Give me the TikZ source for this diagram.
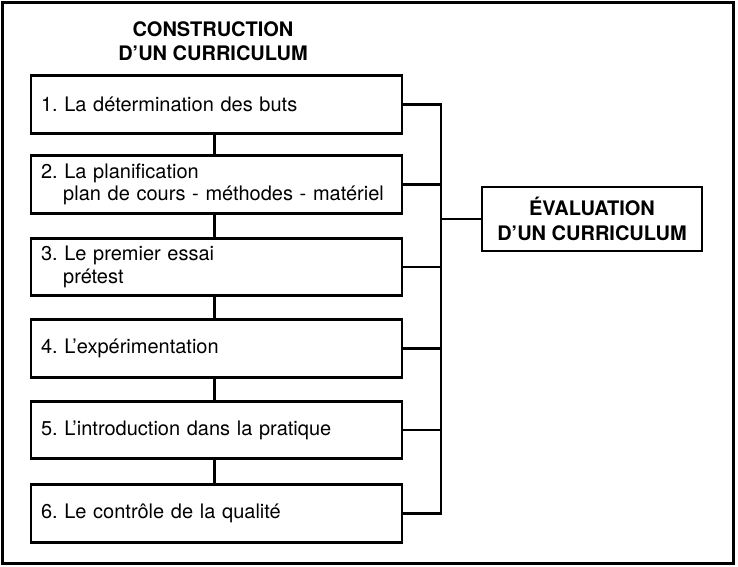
\documentclass[tikz,border=0pt]{standalone}
\usepackage{fontspec}
\setmainfont{TeX Gyre Heros}
\frenchspacing
\begin{document}
\begin{tikzpicture}[x=1pt,y=-1pt,
  stagebox/.style={draw,line width=2.6pt,minimum width=371pt,minimum height=57.5pt,
    text width=351pt,align=left,inner xsep=9.5pt,inner ysep=0pt,
    font=\fontsize{20}{22.5}\selectfont},
  evalbox/.style={draw,line width=2.6pt,minimum width=220pt,minimum height=64pt,
    align=center,inner sep=0pt,font=\fontsize{20}{24.5}\selectfont\bfseries},
  link/.style={line width=2.6pt}]
\useasboundingbox (0,0) rectangle (738,566);
\draw[line width=3pt] (2,2) rectangle (733,563);
\node[align=center,font=\fontsize{20}{24.5}\selectfont\bfseries] (title) at (213,41)
  {CONSTRUCTION\\D’UN CURRICULUM};
\node[stagebox] (b1) at (216.5,104.5) {1. La détermination des buts};
\node[stagebox] (b2) at (216.5,184.5) {2. La planification\\\hspace*{22.2pt}plan de cours - méthodes - matériel};
\node[stagebox] (b3) at (216.5,267) {3. Le premier essai\\\hspace*{22.2pt}prétest};
\node[stagebox] (b4) at (216.5,348.5) {4. L’expérimentation};
\node[stagebox] (b5) at (216.5,430) {5. L’introduction dans la pratique};
\node[stagebox] (b6) at (216.5,513.5) {6. Le contrôle de la qualité};
\node[evalbox] (ev) at (592,219) {ÉVALUATION\\D’UN CURRICULUM};
\coordinate (bus) at (441,0);
\foreach \a/\b in {b1/b2,b2/b3,b3/b4,b4/b5,b5/b6}
  \draw[link] (\a.south -| 214.5,0) -- (\b.north -| 214.5,0);
\foreach \b in {b1,b2,b3,b4,b5,b6}
  \draw[link] (\b.east) -- (\b.east -| bus);
\draw[link,line cap=rect] (b1.east -| bus) -- (b6.east -| bus);
\draw[link] (ev.west -| bus) -- (ev.west);
\end{tikzpicture}
\end{document}
